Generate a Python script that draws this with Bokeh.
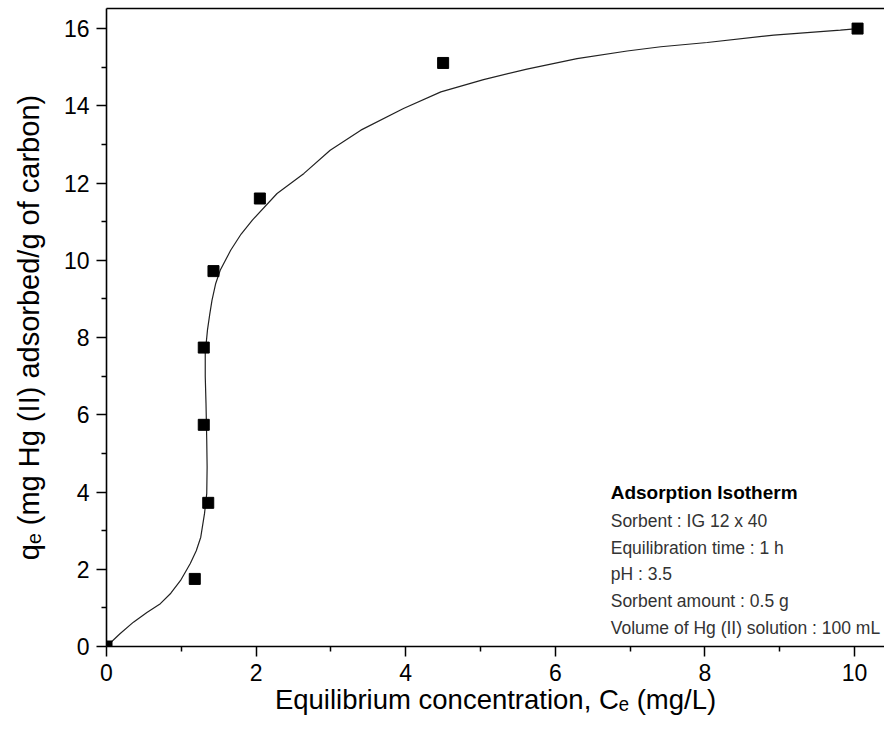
from bokeh.plotting import figure
from bokeh.models import Range1d, LinearAxis, Label, FixedTicker
from bokeh.embed import file_html
from bokeh.resources import INLINE

# Experimental points
ce_obs = [0.0, 1.18, 1.36, 1.30, 1.30, 1.43, 2.05, 4.50, 10.04]
qe_obs = [0.0, 1.75, 3.72, 5.74, 7.74, 9.72, 11.60, 15.11, 16.00]

# Fitted curve
ce_fit = [0.0, 0.18, 0.36, 0.54, 0.72, 0.86, 0.99, 1.12, 1.20, 1.26, 1.31, 1.34, 1.345, 1.34, 1.33,
          1.32, 1.32, 1.35, 1.38, 1.41, 1.46, 1.52, 1.66, 1.80, 1.95, 2.28, 2.64, 2.99, 3.40, 3.97,
          4.47, 5.04, 5.62, 6.29, 6.96, 7.41, 8.03, 8.92, 9.81, 10.04]
qe_fit = [0.0, 0.33, 0.63, 0.88, 1.11, 1.38, 1.71, 2.15, 2.48, 2.83, 3.44, 3.96, 4.64, 5.34, 6.30,
          7.00, 7.60, 8.20, 8.60, 8.96, 9.40, 9.74, 10.26, 10.68, 11.04, 11.73, 12.25, 12.85, 13.37, 13.93,
          14.36, 14.68, 14.95, 15.22, 15.42, 15.53, 15.64, 15.83, 15.96, 16.00]

x_ticks = [0, 2, 4, 6, 8, 10]
y_ticks = [0, 2, 4, 6, 8, 10, 12, 14, 16]

x_title = "Equilibrium concentration, C\u2091 (mg/L)"
y_title = "q\u2091 (mg Hg (II) adsorbed/g of carbon)"
info_title = "Adsorption Isotherm"
info_lines = ["Sorbent : IG 12 x 40", "Equilibration time : 1 h", "pH : 3.5",
              "Sorbent amount : 0.5 g", "Volume of Hg (II) solution : 100 mL"]

FONT = "Liberation Sans"

p = figure(width=884, height=744, output_backend="svg", toolbar_location=None,
           x_range=Range1d(0, 10.4), y_range=Range1d(0, 16.52),
           min_border_left=106, min_border_bottom=98, min_border_top=8, min_border_right=0)
p.outline_line_color = None
p.grid.grid_line_color = None
p.background_fill_color = "white"

for ax in (p.xaxis[0], p.yaxis[0]):
    ax.axis_line_width = 1.6
    ax.axis_line_color = "black"
    ax.major_tick_out = 10
    ax.major_tick_in = 0
    ax.minor_tick_out = 5
    ax.minor_tick_in = 0
    ax.major_tick_line_width = 1.5
    ax.minor_tick_line_width = 1.5
    ax.major_label_text_font = FONT
    ax.major_label_text_font_size = "23px"
    ax.major_label_text_color = "black"
    ax.axis_label_text_font = FONT
    ax.axis_label_text_font_style = "normal"
    ax.axis_label_text_color = "black"
    ax.major_label_standoff = 7

p.xaxis.axis_label_text_font_size = "27.5px"
p.yaxis.axis_label_text_font_size = "29px"
p.xaxis.ticker = FixedTicker(ticks=x_ticks, minor_ticks=[1, 3, 5, 7, 9])
p.yaxis.ticker = FixedTicker(ticks=y_ticks, minor_ticks=[1, 3, 5, 7, 9, 11, 13, 15])
p.xaxis.axis_label = x_title
p.yaxis.axis_label = y_title
p.xaxis.axis_label_standoff = 0
p.yaxis.axis_label_standoff = 16

top = LinearAxis(ticker=FixedTicker(ticks=[]), axis_line_width=1.6, axis_line_color="black",
                 major_tick_line_color=None, minor_tick_line_color=None,
                 major_label_text_font_size="0px")
p.add_layout(top, "above")

p.line(ce_fit, qe_fit, line_color="#222222", line_width=1.2)
p.scatter(ce_obs, qe_obs, marker="square", size=11, fill_color="black", line_color="black")

p.add_layout(Label(x=6.74, y=3.99, text=info_title, text_font=FONT, text_font_size="19px",
                   text_font_style="bold", text_baseline="middle", text_color="black"))
ys = [3.24, 2.54, 1.87, 1.17, 0.47]
for t, yy in zip(info_lines, ys):
    p.add_layout(Label(x=6.74, y=yy, text=t, text_font=FONT, text_font_size="17.5px",
                       text_baseline="middle", text_color="#333333"))

open("out.html", "w").write(file_html(p, INLINE))
